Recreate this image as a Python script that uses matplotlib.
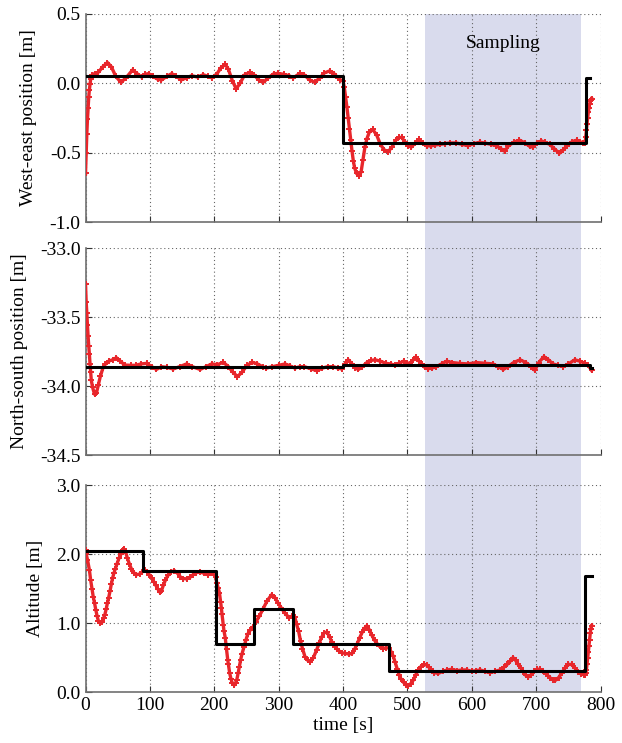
import matplotlib
matplotlib.use("Agg")
import matplotlib.pyplot as plt
import matplotlib.transforms as mtransforms
from matplotlib.patches import Rectangle
from matplotlib.ticker import FormatStrFormatter, MultipleLocator

plt.rcParams['font.family'] = ['Liberation Serif', 'DejaVu Serif']
plt.rcParams['font.size'] = 14
plt.rcParams['axes.unicode_minus'] = False

# sampling window [s]
sampling_span = [527, 770]

# west-east position: measured (red) and setpoint (black)
we_t = [0, 1, 2, 3, 4, 5, 6, 7, 8, 10, 14, 20, 27, 34, 40, 47, 55, 63, 73, 80, 87, 92, 98,
        105, 112, 118, 126, 134, 141, 149, 157, 165, 174, 183, 190, 196, 203, 210, 217,
        222, 228, 234, 240, 247, 255, 262, 269, 276, 284, 292, 299, 308, 316, 323, 333,
        340, 348, 356, 364, 371, 379, 386, 392, 396, 400, 402, 404, 406, 408, 410, 412,
        414, 416, 418, 421, 425, 428, 431, 434, 437, 441, 446, 452, 458, 464, 470, 476,
        482, 487, 491, 496, 501, 506, 512, 518, 524, 530, 536, 543, 551, 559, 566, 576,
        585, 594, 603, 612, 620, 630, 638, 645, 651, 657, 665, 674, 683, 690, 695, 701,
        708, 714, 721, 728, 736, 742, 748, 756, 763, 768, 773, 776, 777, 778, 779, 780,
        781, 782, 783, 784, 785, 786]
we_pos = [-0.65, -0.50, -0.365, -0.26, -0.175, -0.10, -0.045, -0.005, 0.03, 0.06, 0.07, 0.08,
          0.12, 0.15, 0.12, 0.05, 0.007, 0.04, 0.096, 0.07, 0.045, 0.065, 0.07, 0.05, 0.03,
          0.024, 0.05, 0.07, 0.05, 0.025, 0.04, 0.055, 0.045, 0.062, 0.05, 0.04, 0.06, 0.11,
          0.137, 0.10, 0.02, -0.04, 0.00, 0.06, 0.08, 0.06, 0.025, 0.007, 0.04, 0.068, 0.072,
          0.065, 0.055, 0.04, 0.072, 0.06, 0.025, 0.007, 0.04, 0.075, 0.089, 0.07, 0.04,
          0.024, 0.02, -0.03, -0.10, -0.17, -0.25, -0.33, -0.41, -0.49, -0.56, -0.61, -0.65,
          -0.665, -0.64, -0.55, -0.46, -0.40, -0.35, -0.333, -0.37, -0.44, -0.48, -0.493,
          -0.46, -0.41, -0.39, -0.39, -0.42, -0.45, -0.46, -0.43, -0.404, -0.43, -0.45,
          -0.452, -0.445, -0.44, -0.435, -0.43, -0.43, -0.44, -0.45, -0.435, -0.425, -0.43,
          -0.44, -0.45, -0.47, -0.49, -0.45, -0.425, -0.41, -0.43, -0.455, -0.46, -0.43,
          -0.415, -0.425, -0.44, -0.47, -0.505, -0.48, -0.45, -0.42, -0.41, -0.42, -0.43,
          -0.43, -0.39, -0.34, -0.29, -0.25, -0.21, -0.18, -0.15, -0.13, -0.12, -0.11]
we_ref_t = [0, 400, 777, 784]
we_ref = [0.055, -0.43, 0.04, 0.04]

# north-south position
ns_t = [0, 1, 2, 3, 4, 5, 6, 7, 8, 9, 11, 14, 17, 20, 23, 27, 31, 36, 42, 48, 54, 61, 70, 78,
        86, 95, 103, 110, 118, 127, 136, 146, 157, 166, 178, 187, 196, 205, 214, 222, 229,
        236, 243, 251, 259, 267, 275, 281, 290, 300, 310, 318, 325, 333, 340, 350, 359,
        368, 376, 385, 392, 398, 403, 408, 414, 419, 424, 430, 437, 443, 450, 458, 467,
        474, 481, 487, 494, 499, 504, 509, 513, 518, 522, 527, 532, 538, 545, 553, 561,
        570, 581, 594, 607, 620, 633, 641, 649, 656, 665, 675, 684, 692, 698, 704, 712,
        719, 726, 734, 742, 750, 760, 768, 776, 781, 786]
ns_pos = [-33.26, -33.39, -33.47, -33.56, -33.64, -33.71, -33.77, -33.84, -33.90, -33.96,
          -34.01, -34.06, -34.05, -33.99, -33.93, -33.87, -33.84, -33.82, -33.81, -33.795,
          -33.82, -33.848, -33.85, -33.85, -33.84, -33.836, -33.86, -33.88, -33.86, -33.865,
          -33.877, -33.86, -33.84, -33.86, -33.88, -33.86, -33.84, -33.845, -33.828, -33.86,
          -33.90, -33.932, -33.90, -33.85, -33.828, -33.84, -33.86, -33.87, -33.86, -33.85,
          -33.84, -33.855, -33.87, -33.86, -33.86, -33.875, -33.889, -33.87, -33.86, -33.86,
          -33.87, -33.877, -33.84, -33.81, -33.84, -33.87, -33.88, -33.86, -33.83, -33.815,
          -33.81, -33.82, -33.836, -33.84, -33.85, -33.835, -33.82, -33.83, -33.84, -33.81,
          -33.79, -33.82, -33.84, -33.865, -33.875, -33.87, -33.86, -33.84, -33.82, -33.83,
          -33.836, -33.84, -33.83, -33.835, -33.84, -33.86, -33.88, -33.86, -33.83, -33.81,
          -33.83, -33.86, -33.886, -33.83, -33.787, -33.81, -33.84, -33.85, -33.86, -33.84,
          -33.81, -33.82, -33.836, -33.85, -33.886]
ns_ref_t = [0, 400, 784, 786]
ns_ref = [-33.862, -33.845, -33.87, -33.87]

# altitude
alt_t = [0, 1, 3, 6, 8, 10, 12, 14, 16, 18, 20, 23, 26, 28, 30, 32, 34, 36, 38, 40, 42, 44,
         46, 49, 52, 55, 58, 60, 62, 65, 68, 71, 75, 79, 84, 88, 92, 96, 99, 103, 106, 109,
         112, 115, 118, 121, 124, 128, 133, 138, 143, 147, 152, 157, 162, 167, 172, 178,
         184, 190, 196, 200, 202, 204, 206, 208, 210, 211, 212, 214, 215, 217, 218, 219,
         221, 222, 224, 226, 228, 231, 233, 235, 237, 239, 241, 243, 246, 249, 252, 256,
         260, 265, 270, 276, 282, 289, 294, 299, 304, 310, 316, 321, 325, 328, 331, 334,
         337, 341, 345, 349, 354, 359, 363, 367, 371, 375, 379, 383, 388, 393, 398, 403,
         409, 414, 418, 422, 426, 430, 434, 437, 441, 445, 449, 453, 457, 462, 467, 471,
         475, 478, 481, 484, 487, 490, 494, 498, 501, 505, 509, 513, 517, 521, 526, 531,
         536, 542, 548, 555, 562, 569, 577, 585, 592, 600, 607, 613, 620, 628, 636, 644,
         650, 655, 660, 664, 668, 672, 676, 680, 684, 688, 692, 697, 702, 706, 711, 716,
         721, 726, 730, 735, 740, 745, 750, 755, 760, 765, 770, 774, 776, 777, 778, 779,
         780, 781, 782, 783, 784, 785, 786]
alt = [2.06, 2.0, 1.92, 1.77, 1.62, 1.50, 1.38, 1.29, 1.19, 1.10, 1.03, 1.00, 1.02, 1.07,
       1.12, 1.20, 1.29, 1.37, 1.46, 1.56, 1.65, 1.72, 1.78, 1.86, 1.94, 2.00, 2.06, 2.07,
       2.04, 1.94, 1.86, 1.79, 1.73, 1.70, 1.71, 1.74, 1.77, 1.74, 1.70, 1.65, 1.60, 1.55,
       1.50, 1.45, 1.47, 1.55, 1.62, 1.69, 1.74, 1.76, 1.72, 1.67, 1.645, 1.64, 1.66, 1.70,
       1.73, 1.74, 1.72, 1.70, 1.72, 1.71, 1.66, 1.58, 1.51, 1.44, 1.30, 1.22, 1.13, 0.97,
       0.89, 0.79, 0.70, 0.62, 0.46, 0.40, 0.27, 0.19, 0.13, 0.10, 0.13, 0.18, 0.27, 0.37,
       0.47, 0.55, 0.65, 0.75, 0.84, 0.90, 0.94, 1.02, 1.10, 1.21, 1.32, 1.41, 1.37, 1.29,
       1.22, 1.14, 1.08, 1.10, 1.09, 0.98, 0.88, 0.74, 0.63, 0.51, 0.46, 0.44, 0.50, 0.61,
       0.71, 0.80, 0.86, 0.87, 0.80, 0.72, 0.65, 0.60, 0.57, 0.56, 0.55, 0.56, 0.62, 0.70,
       0.79, 0.87, 0.93, 0.96, 0.90, 0.82, 0.75, 0.70, 0.66, 0.63, 0.64, 0.64, 0.58, 0.52,
       0.43, 0.34, 0.25, 0.19, 0.14, 0.10, 0.09, 0.12, 0.17, 0.25, 0.32, 0.37, 0.40, 0.39,
       0.33, 0.28, 0.27, 0.30, 0.32, 0.33, 0.31, 0.32, 0.32, 0.30, 0.31, 0.32, 0.30, 0.28,
       0.30, 0.32, 0.36, 0.40, 0.45, 0.50, 0.46, 0.40, 0.35, 0.29, 0.24, 0.22, 0.25, 0.30,
       0.33, 0.33, 0.30, 0.26, 0.21, 0.18, 0.17, 0.21, 0.28, 0.35, 0.40, 0.40, 0.35, 0.29,
       0.26, 0.25, 0.25, 0.27, 0.32, 0.40, 0.49, 0.58, 0.67, 0.76, 0.85, 0.92, 0.96]
alt_ref_t = [0, 89, 202, 262, 323, 472, 776, 786]
alt_ref = [2.04, 1.75, 0.70, 1.20, 0.70, 0.30, 1.68, 1.68]

panels = [
    (we_t, we_pos, we_ref_t, we_ref, "West-east position [m]", (-1.0, 0.5), 0.5),
    (ns_t, ns_pos, ns_ref_t, ns_ref, "North-south position [m]", (-34.5, -33.0), 0.5),
    (alt_t, alt, alt_ref_t, alt_ref, "Altitude [m]", (0.0, 3.0), 1.0),
]

red = '#e8262b'
shade = '#d9dbed'
spine_col = '#707070'

fig = plt.figure(figsize=(6.22, 7.43), dpi=100)
left, width = 0.1375, 0.828
rects = [(0.7012, 0.2800), (0.3876, 0.2786), (0.0686, 0.2786)]

axes = []
for (t, v, rt, rv, label, ylim, step), (bottom, height) in zip(panels, rects):
    ax = fig.add_axes([left, bottom, width, height])
    ax.set_facecolor('none')
    ax.plot(t, v, color=red, lw=2.4, marker='+', ms=4.5, mew=1.4, zorder=3)
    ax.plot(rt, rv, color='black', lw=2.2, drawstyle='steps-post', zorder=4)
    ax.set_xlim(0, 800)
    ax.set_ylim(*ylim)
    ax.xaxis.set_major_locator(MultipleLocator(100))
    ax.yaxis.set_major_locator(MultipleLocator(step))
    ax.yaxis.set_major_formatter(FormatStrFormatter('%.1f'))
    ax.set_ylabel(label, labelpad=9)
    ax.grid(True, color='#666666', linestyle=(0, (1, 2.5)), lw=0.8)
    for s in ['top', 'right']:
        ax.spines[s].set_visible(False)
    for s in ['left', 'bottom']:
        ax.spines[s].set_color(spine_col)
        ax.spines[s].set_linewidth(1.2)
    ax.tick_params(direction='in', length=4, color='#333333', labelsize=14)
    axes.append(ax)

for ax in axes[:2]:
    ax.tick_params(labelbottom=False)
axes[2].set_xlabel("time [s]", labelpad=2)

# sampling window spans all three panels
trans = mtransforms.blended_transform_factory(axes[2].transData, fig.transFigure)
y0 = rects[2][0]
y1 = rects[0][0] + rects[0][1]
fig.patches.append(Rectangle((sampling_span[0], y0), sampling_span[1] - sampling_span[0], y1 - y0,
                             transform=trans, facecolor=shade, edgecolor='none', zorder=-1))
axes[0].text(sum(sampling_span) / 2, 0.29, "Sampling", ha='center', va='center', fontsize=14)

fig.savefig("out.png", dpi=100)
